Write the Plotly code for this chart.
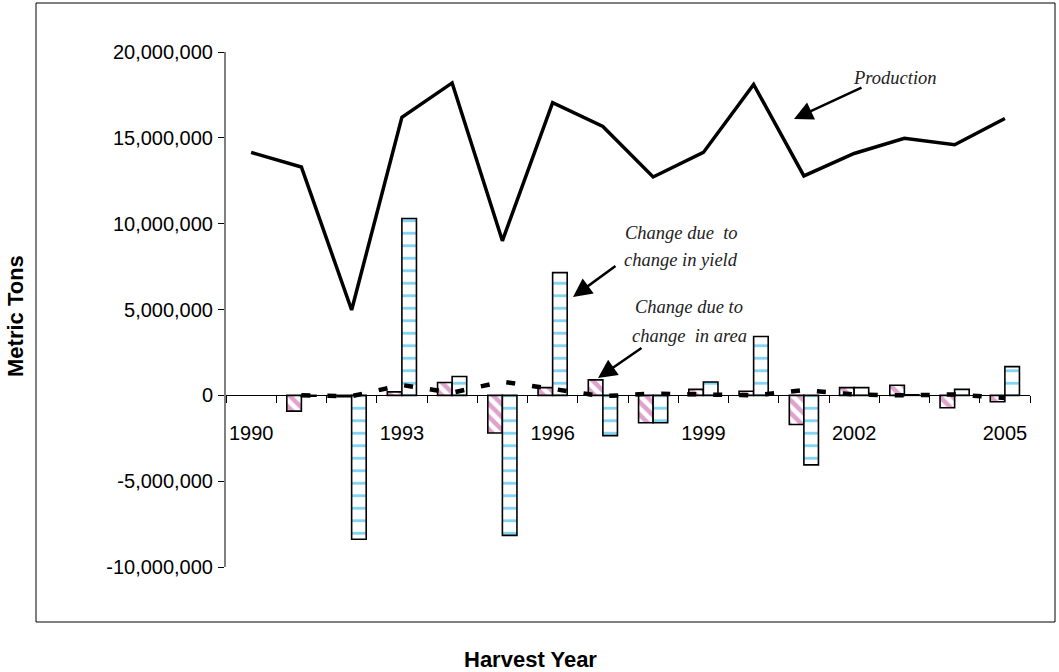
import plotly.graph_objects as go

years = [str(y) for y in range(1990, 2006)]
production = [14.15e6, 13.3e6, 4.97e6, 16.2e6, 18.2e6, 9.0e6, 17.05e6, 15.66e6,
              12.72e6, 14.15e6, 18.11e6, 12.78e6, 14.09e6, 14.97e6, 14.6e6, 16.13e6]
area_change = [None, -0.92e6, -0.08e6, 0.2e6, 0.75e6, -2.19e6, 0.45e6, 0.9e6,
               -1.6e6, 0.35e6, 0.24e6, -1.7e6, 0.45e6, 0.59e6, -0.72e6, -0.37e6]
yield_change = [None, -0.05e6, -8.38e6, 10.3e6, 1.1e6, -8.16e6, 7.15e6, -2.35e6,
                -1.6e6, 0.78e6, 3.43e6, -4.05e6, 0.45e6, 0.03e6, 0.35e6, 1.67e6]
interaction = [None, 0.0, -0.05e6, 0.6e6, 0.15e6, 0.8e6, 0.4e6, -0.05e6,
               0.1e6, 0.05e6, 0.0, 0.3e6, 0.05e6, 0.0, 0.05e6, -0.15e6]
y_tickvals = [-10e6, -5e6, 0, 5e6, 10e6, 15e6, 20e6]
y_ticktext = ["-10,000,000", "-5,000,000", "0", "5,000,000", "10,000,000",
              "15,000,000", "20,000,000"]
x_ticktext = [y if (int(y) - 1990) % 3 == 0 else "" for y in years]

W, H = 1059, 672
L, R, T, B = 226, 29, 52, 105
PW, PH = W - L - R, H - T - B


def px(x):
    return (x - L) / PW


def py(y):
    return (H - B - y) / PH


fig = go.Figure()
fig.add_trace(go.Bar(
    x=years, y=area_change, name="Change due to change in area",
    marker=dict(color="white", line=dict(color="black", width=1.6),
                pattern=dict(shape="\\", fgcolor="#C2469A", bgcolor="white",
                             size=9, solidity=0.5)),
))
fig.add_trace(go.Bar(
    x=years, y=yield_change, name="Change due to change in yield",
    marker=dict(color="white", line=dict(color="black", width=1.6),
                pattern=dict(shape="-", fgcolor="#00A8E8", bgcolor="white",
                             size=12.5, solidity=0.22)),
))
fig.add_trace(go.Scatter(
    x=years, y=production, mode="lines", name="Production",
    line=dict(color="black", width=3.5),
))
fig.add_trace(go.Scatter(
    x=years, y=interaction, mode="lines", name="Interaction",
    line=dict(color="black", width=4.5, dash="9px,17px"),
))

font = "Liberation Sans, Arial, sans-serif"
serif = "Liberation Serif, Times New Roman, serif"

fig.update_layout(
    width=W, height=H,
    margin=dict(l=L, r=R, t=T, b=B, pad=0),
    paper_bgcolor="white", plot_bgcolor="white",
    showlegend=False,
    barmode="group", bargap=0.42, bargroupgap=0,
    font=dict(family=font, size=20, color="black"),
    xaxis=dict(
        type="category", categoryorder="array", categoryarray=years,
        range=[-0.5, 15.5], anchor="free", position=1/3,
        showline=True, linecolor="black", linewidth=1,
        showgrid=False, zeroline=False,
        tickson="boundaries", ticks="outside", ticklen=7, tickcolor="black",
        tickwidth=1, tickangle=0,
        tickvals=years, ticktext=x_ticktext,
        tickfont=dict(family=font, size=20, color="black"),
        ticklabelstandoff=20,
    ),
    yaxis=dict(
        range=[-10e6, 20e6], showline=True, linecolor="#808080", linewidth=2,
        showgrid=False, zeroline=False,
        tickvals=y_tickvals, ticktext=y_ticktext,
        ticks="outside", ticklen=6, tickcolor="black", tickwidth=1,
        tickfont=dict(family=font, size=20, color="black"),
        ticklabelstandoff=1,
    ),
    shapes=[dict(type="rect", xref="paper", yref="paper",
                 x0=px(36), x1=px(1055), y0=py(622), y1=py(3),
                 line=dict(color="black", width=1), layer="below")],
)

ann = []
# Axis titles
ann.append(dict(text="<b>Metric Tons</b>", xref="paper", yref="paper",
                x=px(15), y=py(316), showarrow=False, textangle=-90,
                font=dict(family=font, size=22, color="black"),
                xanchor="center", yanchor="middle"))
ann.append(dict(text="<b>Harvest Year</b>", xref="paper", yref="paper",
                x=px(530), y=py(659), showarrow=False,
                font=dict(family=font, size=22, color="black"),
                xanchor="center", yanchor="middle"))
# Text labels
labels = [("<i>Production</i>", 895, 78),
          ("<i>Change due  to</i>", 681, 233),
          ("<i>change in yield</i>", 681, 260),
          ("<i>Change due to</i>", 689, 307),
          ("<i>change  in area</i>", 689, 336)]
for t, x, y in labels:
    ann.append(dict(text=t, xref="paper", yref="paper", x=px(x), y=py(y),
                    showarrow=False, xanchor="center", yanchor="middle",
                    font=dict(family=serif, size=18.5, color="#222222")))
# Arrows (head, tail)
arrows = [((794, 119), (863, 87)),
          ((573, 297), (617, 265)),
          ((598, 378), (643, 347))]
for (hx, hy), (tx, ty) in arrows:
    ann.append(dict(text="", xref="paper", yref="paper", x=px(hx), y=py(hy),
                    ax=tx - hx, ay=ty - hy, showarrow=True, arrowhead=2,
                    arrowsize=1.5, arrowwidth=2.5, arrowcolor="black"))
fig.update_layout(annotations=ann)

fig.write_html("out.html", config={"displayModeBar": False},
               post_script="document.body.style.margin='0';"
                           "document.body.style.overflow='hidden';")
